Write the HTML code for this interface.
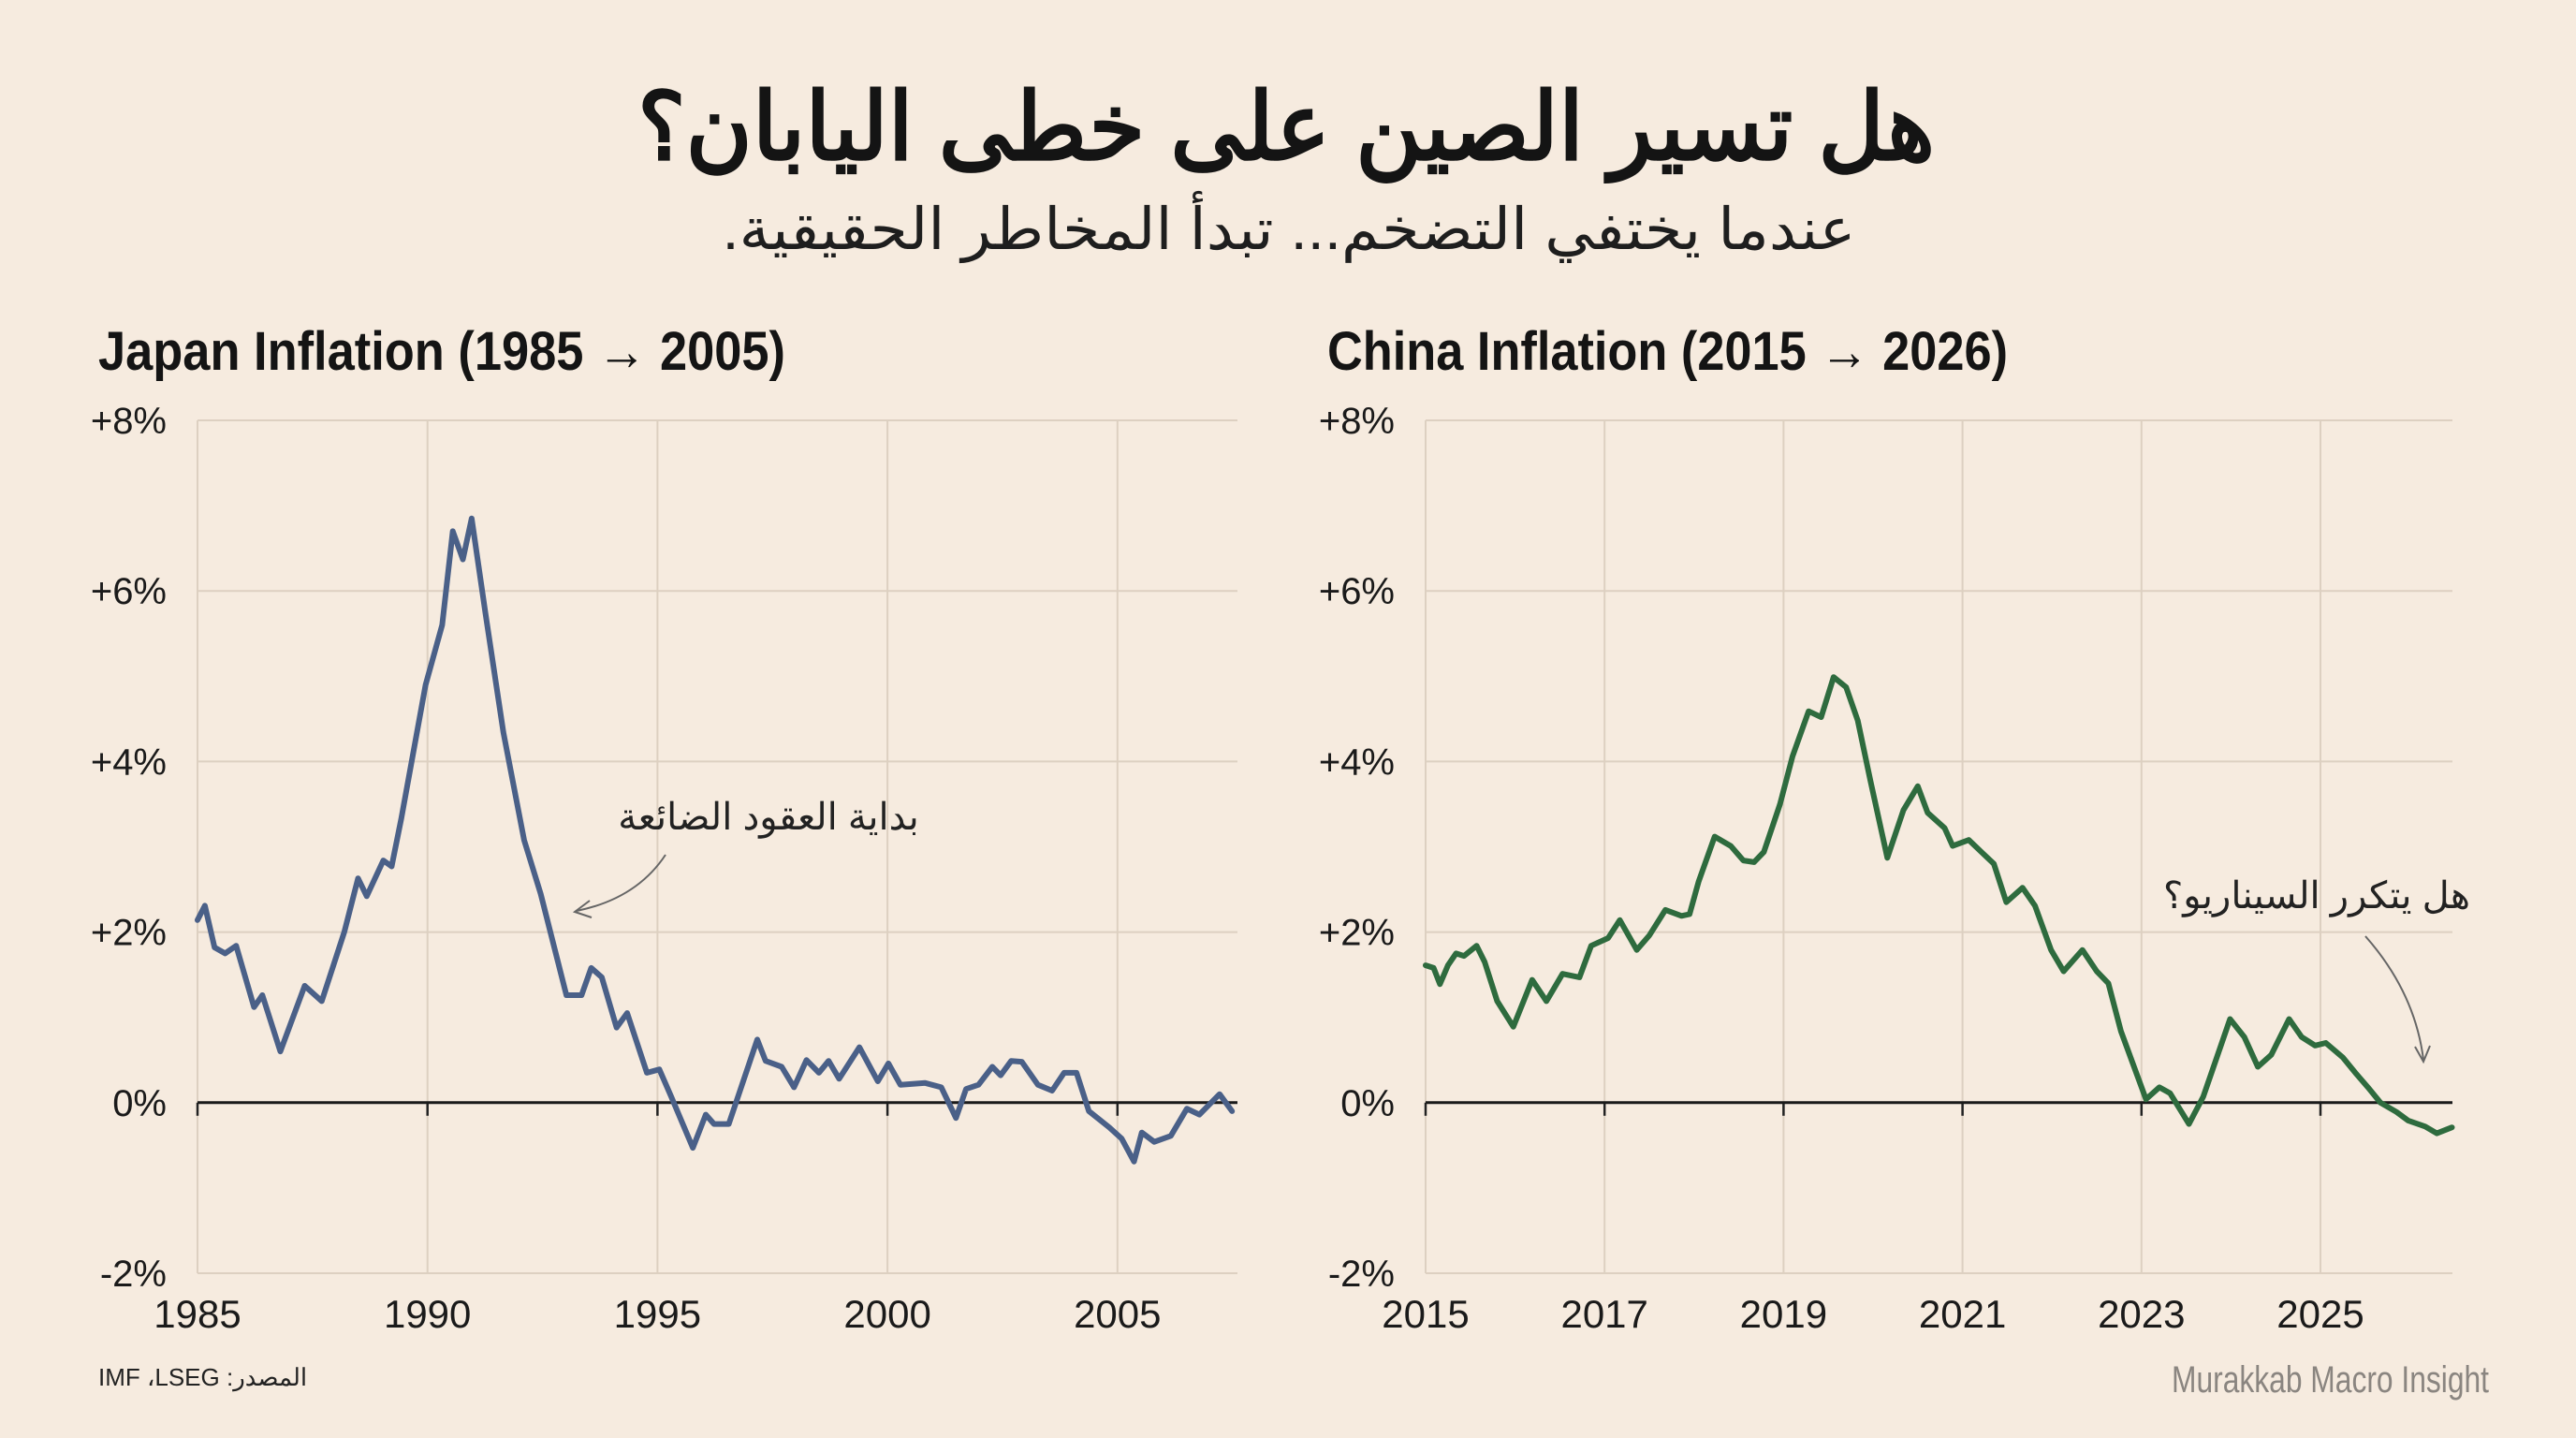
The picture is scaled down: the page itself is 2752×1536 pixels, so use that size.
<!DOCTYPE html>
<html><head><meta charset="utf-8"><style>
html,body{margin:0;padding:0;background:#f6ebdf;}
svg{display:block;}
text{font-family:"Liberation Sans","Noto Sans CJK SC",sans-serif;}
.cond{font-family:"Liberation Sans Narrow","Liberation Sans",sans-serif;}
</style></head><body>
<svg id="root" width="2752" height="1536" viewBox="0 0 2752 1536" xmlns="http://www.w3.org/2000/svg">
<rect width="2752" height="1536" fill="#f6ebdf"/>
<text x="1374" y="170" text-anchor="middle" font-size="100" font-weight="bold" fill="#141414" textLength="1386" lengthAdjust="spacingAndGlyphs" direction="rtl">هل تسير الصين على خطى اليابان؟</text>
<text x="1377" y="266" text-anchor="middle" font-size="62" fill="#1e1e1e" textLength="1211" lengthAdjust="spacingAndGlyphs" direction="rtl">عندما يختفي التضخم... تبدأ المخاطر الحقيقية.</text>
<text class="cond" x="105" y="395" font-size="58" font-weight="bold" fill="#141414" textLength="734" lengthAdjust="spacingAndGlyphs">Japan Inflation (1985 → 2005)</text>
<text class="cond" x="1418" y="395" font-size="58" font-weight="bold" fill="#141414" textLength="727" lengthAdjust="spacingAndGlyphs">China Inflation (2015 → 2026)</text>
<g id="japan"></g>
<g id="china"></g>
<text x="105" y="1480" font-size="26" fill="#222">IMF ،LSEG :المصدر</text>
<text class="cond" x="2659" y="1487" text-anchor="end" font-size="40" fill="#8a8580" textLength="339" lengthAdjust="spacingAndGlyphs">Murakkab Macro Insight</text>
<text x="821" y="886" text-anchor="middle" font-size="40" fill="#222" direction="rtl">بداية العقود الضائعة</text>
<path d="M711,913 Q680,960 616,973" fill="none" stroke="#666" stroke-width="2"/>
<path d="M630,962 L614,974 L632,980" fill="none" stroke="#666" stroke-width="2"/>
<text x="2475" y="970" text-anchor="middle" font-size="40" fill="#222" direction="rtl">هل يتكرر السيناريو؟</text>
<path d="M2527,1000 Q2580,1060 2589,1132" fill="none" stroke="#666" stroke-width="2"/>
<path d="M2580,1118 L2589,1134 L2596,1117" fill="none" stroke="#666" stroke-width="2"/>
</svg>
<script>
const NS="http://www.w3.org/2000/svg";
const yTicks=[8,6,4,2,0,-2];
const yTickLabels=["+8%","+6%","+4%","+2%","0%","-2%"];
const japanXTicks=[1985,1990,1995,2000,2005];
const chinaXTicks=[2015,2017,2019,2021,2023,2025];
const japanDates=[1985.00,1985.16,1985.37,1985.60,1985.84,1986.23,1986.41,1986.80,1987.33,1987.70,1988.19,1988.49,1988.68,1989.04,1989.22,1989.43,1989.96,1990.32,1990.55,1990.77,1990.96,1991.26,1991.65,1992.10,1992.46,1993.02,1993.35,1993.56,1993.79,1994.11,1994.34,1994.77,1995.04,1995.30,1995.77,1996.05,1996.23,1996.55,1997.17,1997.35,1997.70,1997.97,1998.24,1998.51,1998.72,1998.95,1999.39,1999.79,2000.02,2000.28,2000.82,2001.17,2001.49,2001.71,2001.98,2002.28,2002.46,2002.69,2002.92,2003.27,2003.58,2003.84,2004.11,2004.38,2004.82,2005.09,2005.36,2005.53,2005.80,2006.16,2006.51,2006.78,2007.22,2007.49];
const japanValues=[2.14,2.31,1.82,1.75,1.84,1.12,1.26,0.60,1.37,1.19,2.00,2.63,2.42,2.84,2.77,3.33,4.90,5.60,6.70,6.37,6.85,5.74,4.34,3.08,2.45,1.26,1.26,1.58,1.47,0.88,1.05,0.35,0.39,0.07,-0.53,-0.14,-0.25,-0.25,0.74,0.49,0.42,0.18,0.50,0.35,0.49,0.28,0.65,0.25,0.46,0.21,0.23,0.18,-0.18,0.16,0.21,0.42,0.32,0.49,0.48,0.21,0.14,0.35,0.35,-0.10,-0.29,-0.42,-0.69,-0.35,-0.46,-0.39,-0.07,-0.14,0.10,-0.10];
const chinaDates=[2015.00,2015.09,2015.16,2015.25,2015.34,2015.43,2015.57,2015.66,2015.80,2015.98,2016.19,2016.35,2016.53,2016.72,2016.85,2017.04,2017.17,2017.36,2017.50,2017.68,2017.86,2017.95,2018.05,2018.23,2018.41,2018.55,2018.67,2018.78,2018.96,2019.10,2019.28,2019.42,2019.56,2019.70,2019.83,2019.97,2020.16,2020.34,2020.50,2020.61,2020.80,2020.89,2021.07,2021.21,2021.35,2021.49,2021.67,2021.81,2021.99,2022.13,2022.34,2022.50,2022.63,2022.77,2023.05,2023.20,2023.32,2023.53,2023.69,2023.99,2024.15,2024.30,2024.45,2024.65,2024.79,2024.94,2025.06,2025.25,2025.39,2025.53,2025.67,2025.85,2025.98,2026.17,2026.30,2026.47];
const chinaValues=[1.61,1.58,1.39,1.61,1.75,1.72,1.84,1.65,1.19,0.89,1.44,1.19,1.51,1.47,1.84,1.93,2.14,1.79,1.96,2.26,2.19,2.21,2.59,3.12,3.01,2.84,2.82,2.94,3.50,4.06,4.59,4.52,4.99,4.87,4.48,3.78,2.87,3.43,3.71,3.40,3.22,3.01,3.08,2.94,2.80,2.35,2.52,2.31,1.79,1.54,1.79,1.54,1.40,0.84,0.04,0.18,0.11,-0.25,0.07,0.98,0.77,0.42,0.56,0.98,0.77,0.67,0.70,0.53,0.35,0.18,0.00,-0.11,-0.21,-0.28,-0.36,-0.29];

function mk(tag,attrs,parent){const e=document.createElementNS(NS,tag);for(const k in attrs)e.setAttribute(k,attrs[k]);parent.appendChild(e);return e;}

function drawChart(g,cfg){
  const X=v=>cfg.x0+(v-cfg.d0)*(cfg.x1-cfg.x0)/(cfg.d1-cfg.d0);
  const Y=v=>cfg.yTop+(8-v)*(cfg.yBot-cfg.yTop)/10;
  yTicks.forEach((t,i)=>{
    if(t!==0){
      const l=mk('line',{x1:cfg.x0,x2:cfg.x1,y1:Y(t),y2:Y(t),stroke:'#ddd0c1','stroke-width':2},g);
      
      
    }
    const tx=mk('text',{x:cfg.labelX,y:Y(t)+14,'text-anchor':'end','font-size':40,fill:'#1a1a1a',class:'cond'},g);
    tx.textContent=yTickLabels[i];
    
    
  });
  cfg.xTicks.forEach(t=>{
    const l=mk('line',{x1:X(t),x2:X(t),y1:cfg.yTop,y2:cfg.yBot,stroke:'#ddd0c1','stroke-width':2},g);
    
    
    const tk=mk('line',{x1:X(t),x2:X(t),y1:Y(0),y2:Y(0)+14,stroke:'#222','stroke-width':2.5},g);
    
    
    const tx=mk('text',{x:X(t),y:cfg.yBot+58,'text-anchor':'middle','font-size':42,fill:'#1a1a1a',class:'cond'},g);
    tx.textContent=String(t);
    
    
  });
  const zl=mk('line',{x1:cfg.x0,x2:cfg.x1,y1:Y(0),y2:Y(0),stroke:'#1a1a1a','stroke-width':3},g);
  
  
  let d='';
  cfg.dates.forEach((dt,i)=>{d+=(i?'L':'M')+X(dt).toFixed(1)+','+Y(cfg.values[i]).toFixed(1);});
  const p=mk('path',{d:d,fill:'none',stroke:cfg.color,'stroke-width':6,'stroke-linejoin':'round','stroke-linecap':'round'},g);
  
  
}
drawChart(document.getElementById('japan'),{x0:211,x1:1322,d0:1985,d1:1985+(1322-211)/49.14,yTop:449,yBot:1360,labelX:178,xTicks:japanXTicks,dates:japanDates,values:japanValues,color:'#4a6088',name:'japan-inflation-line'});
drawChart(document.getElementById('china'),{x0:1523,x1:2620,d0:2015,d1:2015+(2620-1523)/95.6,yTop:449,yBot:1360,labelX:1490,xTicks:chinaXTicks,dates:chinaDates,values:chinaValues,color:'#2e6b3e',name:'china-inflation-line'});
</script>
</body></html>
